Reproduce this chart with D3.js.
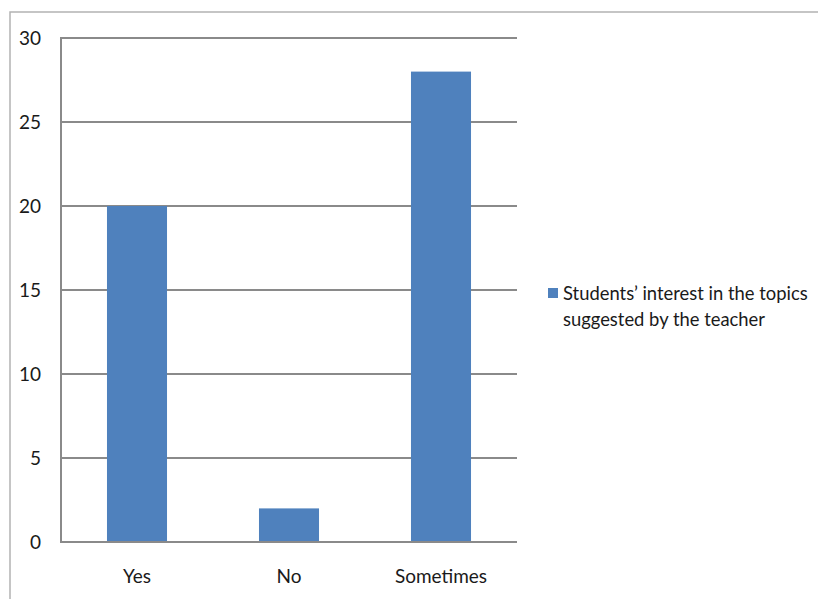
<!DOCTYPE html>
<html>
<head>
<meta charset="utf-8">
<script src="https://cdn.jsdelivr.net/npm/d3@7"></script>
<style>
  html, body { margin: 0; padding: 0; background: #fff; }
  svg text { font-family: Lato, "Open Sans", sans-serif; fill: #1a1a1a; }
</style>
</head>
<body>
<svg id="chart" width="818" height="599"></svg>
<script>
// Survey answers and counts
const categories = ["Yes", "No", "Sometimes"];
const values = [20, 2, 28];
const yTicks = [0, 5, 10, 15, 20, 25, 30];
const seriesName = ["Students\u2019 interest in the topics", "suggested by the teacher"];

const svg = d3.select("#chart");
const W = 818, H = 599;
const plot = { left: 61, right: 517, top: 38, bottom: 542 };

// Outer chart frame
svg.append("rect")
  .attr("x", 10).attr("y", 12)
  .attr("width", W + 20).attr("height", H + 20)
  .attr("fill", "#fff")
  .attr("stroke", "#b3b3b3").attr("stroke-width", 1.5);

const x = d3.scaleBand()
  .domain(categories)
  .range([plot.left, plot.right])
  .paddingInner(0.605).paddingOuter(0.3025);

const y = d3.scaleLinear()
  .domain([0, 30])
  .range([plot.bottom, plot.top]);

// Horizontal gridlines
svg.append("g")
  .selectAll("line")
  .data(yTicks)
  .join("line")
  .attr("x1", plot.left).attr("x2", plot.right)
  .attr("y1", d => y(d)).attr("y2", d => y(d))
  .attr("stroke", "#8a8a8a").attr("stroke-width", 2);

// Bars
svg.append("g")
  .selectAll("rect")
  .data(categories)
  .join("rect")
  .attr("x", d => x(d))
  .attr("width", x.bandwidth())
  .attr("y", (d, i) => y(values[i]))
  .attr("height", (d, i) => y(0) - y(values[i]))
  .attr("fill", "#4f81bd");

// Vertical axis line
svg.append("line")
  .attr("x1", plot.left).attr("x2", plot.left)
  .attr("y1", plot.top - 1).attr("y2", plot.bottom + 1)
  .attr("stroke", "#8a8a8a").attr("stroke-width", 2);

// Redraw baseline on top of bars
svg.append("line")
  .attr("x1", plot.left).attr("x2", plot.right)
  .attr("y1", y(0)).attr("y2", y(0))
  .attr("stroke", "#8a8a8a").attr("stroke-width", 2);

// Y tick labels
svg.append("g")
  .selectAll("text")
  .data(yTicks)
  .join("text")
  .attr("x", 41)
  .attr("y", d => y(d))
  .attr("dy", "0.35em")
  .attr("text-anchor", "end")
  .attr("font-size", 19)
  .text(d => d);

// Category labels
svg.append("g")
  .selectAll("text")
  .data(categories)
  .join("text")
  .attr("x", d => x(d) + x.bandwidth() / 2)
  .attr("y", 583)
  .attr("text-anchor", "middle")
  .attr("font-size", 19)
  .text(d => d);

// Legend
const lg = svg.append("g").attr("transform", "translate(548,287)");
lg.append("rect")
  .attr("x", 0).attr("y", 1)
  .attr("width", 10).attr("height", 10)
  .attr("fill", "#4f81bd");
lg.append("text")
  .attr("font-size", 18.4)
  .selectAll("tspan")
  .data(seriesName)
  .join("tspan")
  .attr("x", 15)
  .attr("y", (d, i) => 13 + i * 26)
  .text(d => d);
</script>
</body>
</html>
